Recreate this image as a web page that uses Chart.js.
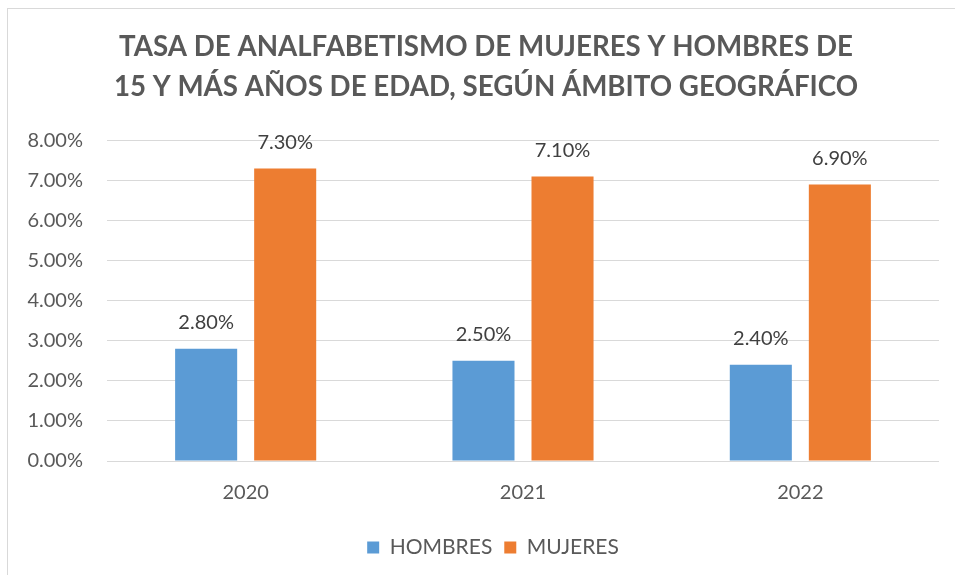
<!DOCTYPE html>
<html>
<head>
<meta charset="utf-8">
<script src="https://cdn.jsdelivr.net/npm/chart.js@4.4.1/dist/chart.umd.min.js"></script>
<style>
  body { margin: 0; background: #fff; }
  #wrap { position: relative; width: 955px; height: 575px; }
  #frame { position: absolute; left: 7px; top: 8px; width: 960px; height: 580px; border-left: 1px solid #d9d9d9; border-top: 1px solid #d9d9d9; pointer-events: none; }
</style>
</head>
<body>
<div id="wrap">
  <canvas id="chart" width="955" height="575"></canvas>
  <div id="frame"></div>
</div>
<script>
const years = ['2020', '2021', '2022'];
const hombres = [2.8, 2.5, 2.4];
const mujeres = [7.3, 7.1, 6.9];
const titleLines = ['TASA DE ANALFABETISMO DE MUJERES Y HOMBRES DE', '15 Y MÁS AÑOS DE EDAD, SEGÚN ÁMBITO GEOGRÁFICO'];

const textColor = '#595959';
const fontFamily = 'Lato, "Open Sans", sans-serif';

// draws the value above each bar
const barLabels = {
    id: 'barLabels',
    afterDatasetsDraw(chart) {
        const ctx = chart.ctx;
        ctx.save();
        ctx.font = '20px ' + fontFamily;
        ctx.fillStyle = '#404040';
        ctx.textAlign = 'center';
        ctx.textBaseline = 'middle';
        chart.data.datasets.forEach((ds, i) => {
            chart.getDatasetMeta(i).data.forEach((bar, j) => {
                ctx.fillText(ds.data[j].toFixed(2) + '%', bar.x, bar.y - 26);
            });
        });
        ctx.restore();
    }
};

// title and legend sit a bit right of the canvas centre in the original
const blockShift = {
    id: 'blockShift',
    afterLayout(chart) {
        chart.legend.left += 20;
        chart.legend.right += 20;
        chart.titleBlock.left += 13;
        chart.titleBlock.right += 13;
    }
};

new Chart(document.getElementById('chart').getContext('2d'), {
    type: 'bar',
    data: {
        labels: years,
        datasets: [{
            label: 'HOMBRES',
            data: hombres,
            backgroundColor: '#5B9BD5'
        }, {
            label: 'MUJERES',
            data: mujeres,
            backgroundColor: '#ED7D31'
        }]
    },
    options: {
        responsive: false,
        animation: false,
        categoryPercentage: 0.57,
        barPercentage: 0.785,
        layout: { padding: { left: 7, right: 16, top: 0, bottom: 7 } },
        scales: {
            y: {
                min: 0,
                max: 8,
                ticks: {
                    stepSize: 1,
                    padding: 24,
                    color: textColor,
                    font: { family: fontFamily, size: 20 },
                    callback: v => v.toFixed(2) + '%'
                },
                grid: { color: '#d9d9d9', lineWidth: 1, drawTicks: false },
                border: { display: false },
                afterFit: s => { s.width = 100; }
            },
            x: {
                ticks: {
                    padding: 20,
                    color: textColor,
                    font: { family: fontFamily, size: 20 }
                },
                grid: { display: false, drawTicks: false },
                border: { display: false }
            }
        },
        plugins: {
            title: {
                display: true,
                text: titleLines,
                color: textColor,
                font: { family: fontFamily, size: 27.7, weight: 'bold', lineHeight: 1.45 },
                padding: { top: 27, bottom: 33 }
            },
            legend: {
                position: 'bottom',
                labels: {
                    color: textColor,
                    font: { family: fontFamily, size: 21 },
                    boxWidth: 12,
                    boxHeight: 12,
                    padding: 12
                }
            },
            tooltip: { enabled: false }
        }
    },
    plugins: [barLabels, blockShift]
});
</script>
</body>
</html>
